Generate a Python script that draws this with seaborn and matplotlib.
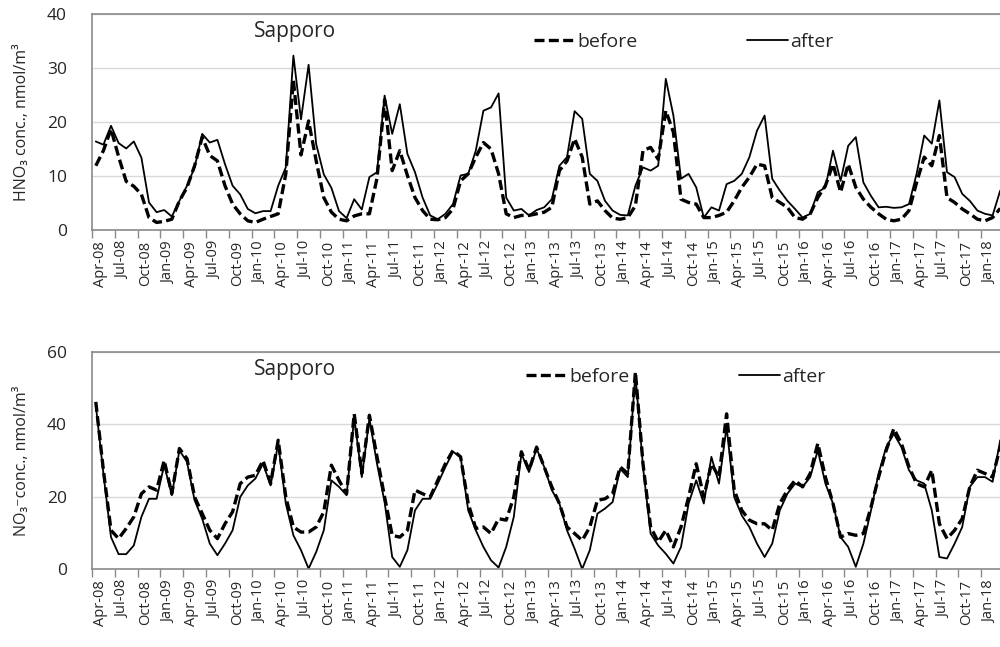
import numpy as np
import pandas as pd
import matplotlib
matplotlib.use('Agg')
import matplotlib.pyplot as plt
import seaborn as sns

# Meses (Apr-08 ... Mar-18)
meses = pd.date_range('2008-04-01', periods=120, freq='MS').strftime('%b-%y').tolist()

hno3_before = [11.9, 14.7, 18.7, 13.6, 9.0, 8.1, 6.6, 2.3, 1.4, 1.6,
               2.0, 5.4, 7.9, 11.9, 17.2, 13.8, 12.8, 8.2, 4.8, 3.0,
               1.7, 1.4, 2.0, 2.5, 3.0, 10.4, 27.7, 13.9, 20.2, 12.8,
               6.0, 3.3, 2.0, 1.7, 2.6, 3.0, 3.0, 9.6, 24.1, 11.0,
               14.7, 10.1, 6.0, 3.6, 2.0, 1.9, 2.3, 3.9, 9.1, 10.4,
               13.5, 16.2, 15.0, 10.4, 3.0, 2.3, 2.7, 2.7, 3.0, 3.3,
               4.2, 11.0, 12.8, 16.9, 13.5, 4.8, 5.4, 3.6, 2.2, 2.0,
               2.3, 4.5, 14.7, 15.3, 13.1, 22.1, 18.1, 5.7, 5.1, 4.8,
               2.3, 2.3, 2.7, 3.3, 5.4, 7.9, 9.8, 12.2, 11.9, 6.0,
               5.1, 4.2, 2.3, 2.0, 3.0, 6.0, 8.2, 12.2, 7.0, 12.2,
               7.9, 5.7, 4.2, 3.0, 2.0, 1.7, 2.0, 3.6, 8.8, 13.5,
               11.9, 17.5, 6.0, 5.1, 3.9, 3.0, 2.0, 1.7, 2.3, 4.0]

hno3_after = [16.4, 15.8, 19.3, 16.1, 15.1, 16.4, 13.4, 5.1, 3.3, 3.7,
              2.5, 5.4, 8.2, 11.6, 17.8, 16.2, 16.7, 12.2, 8.2, 6.6,
              3.9, 3.1, 3.5, 3.5, 8.2, 11.6, 32.3, 20.5, 30.6, 15.9,
              10.3, 7.8, 3.5, 2.2, 5.7, 3.8, 9.8, 10.7, 24.9, 17.8,
              23.3, 14.1, 10.7, 6.0, 2.7, 2.0, 3.0, 4.8, 10.1, 10.4,
              14.7, 22.1, 22.7, 25.3, 6.0, 3.6, 3.9, 2.7, 3.7, 4.2,
              5.7, 11.9, 13.5, 22.0, 20.6, 10.4, 9.1, 5.4, 3.6, 2.8,
              2.7, 8.2, 11.6, 11.0, 11.9, 28.0, 21.2, 9.5, 10.4, 7.9,
              2.3, 4.2, 3.6, 8.5, 9.1, 10.4, 13.5, 18.4, 21.2, 9.5,
              7.3, 5.4, 3.9, 2.3, 3.0, 7.0, 7.9, 14.7, 9.1, 15.6,
              17.2, 8.8, 6.3, 4.2, 4.3, 4.1, 4.2, 4.8, 10.4, 17.5,
              16.0, 24.0, 10.7, 9.8, 6.7, 5.4, 3.6, 3.0, 2.7, 7.3]

no3_before = [46.2, 27.3, 10.7, 8.4, 11.2, 14.4, 20.8, 22.7, 21.8, 30.0,
              20.8, 33.3, 30.5, 19.9, 15.3, 10.7, 8.4, 12.5, 15.8, 23.6,
              25.4, 25.9, 30.0, 23.6, 35.6, 19.9, 11.6, 10.2, 10.2, 11.6,
              15.8, 28.7, 24.5, 20.8, 42.9, 26.4, 42.5, 31.0, 19.9, 9.3,
              8.8, 10.7, 21.8, 20.8, 19.9, 24.5, 29.1, 32.8, 31.0, 18.1,
              11.2, 11.6, 9.8, 13.9, 13.5, 19.9, 32.4, 27.3, 33.7, 28.2,
              22.7, 18.1, 11.6, 9.8, 7.9, 11.6, 19.0, 19.4, 20.8, 28.2,
              26.4, 54.5, 29.1, 11.6, 7.5, 10.7, 6.1, 11.6, 19.9, 29.1,
              19.9, 29.1, 25.4, 42.9, 21.8, 16.2, 13.5, 12.5, 12.5, 10.7,
              18.1, 21.8, 24.5, 22.7, 26.4, 34.7, 25.4, 18.1, 8.8, 9.8,
              9.3, 9.8, 17.1, 25.4, 32.8, 38.8, 34.7, 28.2, 23.6, 22.7,
              27.3, 12.5, 8.4, 10.7, 13.9, 22.7, 27.3, 26.4, 25.4, 33.7]

no3_after = [45.3, 26.4, 8.8, 4.1, 4.1, 6.5, 14.4, 19.4, 19.4, 28.7,
             20.4, 32.8, 29.6, 19.0, 13.9, 7.0, 3.8, 7.0, 10.7, 19.9,
             23.1, 25.0, 29.1, 23.1, 34.7, 18.1, 9.3, 5.2, 0.1, 4.7,
             10.7, 24.5, 22.7, 20.4, 42.0, 25.4, 41.6, 29.1, 18.5, 3.3,
             0.6, 5.2, 16.2, 19.4, 19.4, 23.6, 28.2, 32.4, 31.0, 16.2,
             10.7, 6.1, 2.4, 0.4, 6.1, 14.4, 31.9, 26.8, 33.3, 28.2,
             21.8, 18.1, 10.7, 5.6, 0.0, 5.2, 15.3, 16.7, 18.5, 27.7,
             25.4, 54.0, 28.2, 9.8, 6.5, 4.2, 1.5, 6.1, 18.1, 24.5,
             18.1, 31.0, 23.6, 39.3, 19.9, 14.8, 11.6, 7.0, 3.3, 7.0,
             16.2, 20.8, 23.6, 22.7, 25.4, 32.8, 23.6, 18.1, 8.8, 6.1,
             0.6, 7.0, 16.2, 26.4, 33.7, 37.4, 33.7, 27.3, 24.5, 23.6,
             16.2, 3.3, 2.9, 7.0, 11.6, 22.7, 25.4, 25.4, 24.1, 35.6]

sns.set_theme(style='white')
plt.rcParams['font.family'] = ['Open Sans', 'DejaVu Sans']

gris = '#8a8a8a'


def armar_df(antes, despues):
    n = len(antes)
    return pd.DataFrame({'mes': list(range(n)) * 2,
                         'valor': antes + despues,
                         'serie': ['before'] * n + ['after'] * n})


def dibujar(ax, datos, ymax, paso, ylabel, leg_x, leg_y):
    sns.lineplot(data=datos, x='mes', y='valor', hue='serie', style='serie', size='serie',
                 hue_order=['before', 'after'],
                 palette={'before': 'black', 'after': 'black'},
                 dashes={'before': (3, 1.3), 'after': ''},
                 sizes={'before': 2.4, 'after': 1.3}, ax=ax)
    ax.set_xlim(-0.5, 131.5)
    ax.set_ylim(0, ymax)
    ax.set_yticks(np.arange(0, ymax + 1, paso))
    ax.grid(axis='y', color='#d9d9d9', linewidth=1)
    ax.set_axisbelow(True)
    # etiquetas cada 3 meses, marcas entre categorias
    ax.set_xticks(np.arange(0, len(meses), 3) + 0.6)
    ax.set_xticklabels(meses[::3], rotation=90, fontsize=10.5)
    ax.set_xticks(np.arange(-0.5, 132, 3), minor=True)
    ax.tick_params(axis='x', which='major', length=0, pad=8)
    ax.tick_params(axis='x', which='minor', length=6, width=1, color=gris, direction='out', bottom=True)
    ax.tick_params(axis='y', length=0, pad=18, labelsize=12.5)
    for lado in ['top', 'left', 'bottom']:
        ax.spines[lado].set_color(gris)
        ax.spines[lado].set_linewidth(1.2)
    ax.spines['right'].set_visible(False)
    ax.set_xlabel('')
    ax.set_ylabel(ylabel, fontsize=11.5)
    ax.yaxis.set_label_coords(-0.062, 0.5)
    ax.text(0.2025, 0.917, 'Sapporo', transform=ax.transAxes, fontsize=15,
            ha='center', va='center')
    sns.move_legend(ax, 'center left', bbox_to_anchor=(leg_x, leg_y), ncol=2, title=None,
                    frameon=False, fontsize=14, handlelength=2.1, handletextpad=0.12,
                    columnspacing=5.6, borderpad=0, borderaxespad=0)


fig = plt.figure(figsize=(10, 6.47), dpi=100)
ax1 = fig.add_axes([0.092, 0.6445, 1.0032, 0.3338])
ax2 = fig.add_axes([0.092, 0.1206, 1.0032, 0.3354])

dibujar(ax1, armar_df(hno3_before, hno3_after), 40, 10,
        'HNO₃ conc., nmol/m³', 0.441, 0.870)
dibujar(ax2, armar_df(no3_before, no3_after), 60, 20,
        'NO₃⁻conc., nmol/m³', 0.433, 0.885)

plt.savefig('out.png', dpi=100)
plt.close()
